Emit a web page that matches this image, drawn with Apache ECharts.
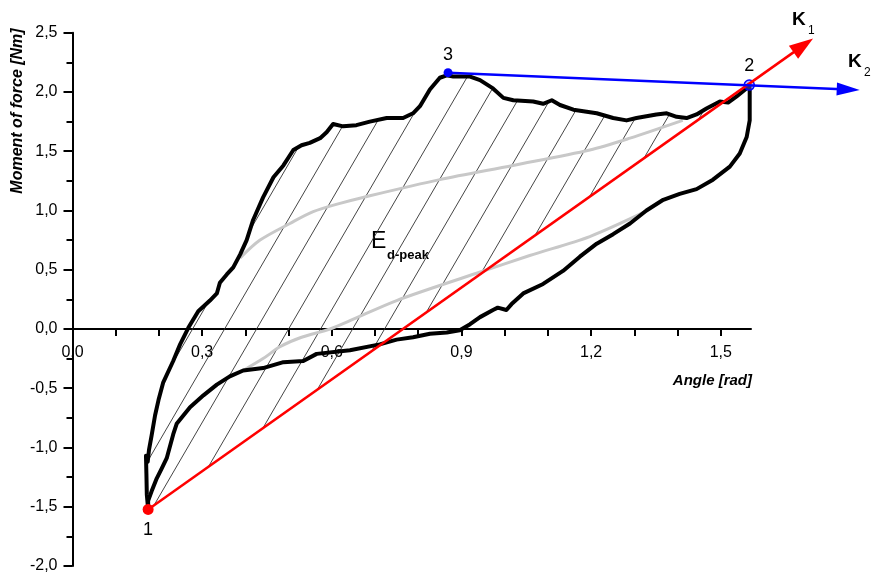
<!DOCTYPE html>
<html>
<head>
<meta charset="utf-8">
<script src="https://cdn.jsdelivr.net/npm/echarts@6/dist/echarts.min.js"></script>
<style>
html,body{margin:0;padding:0;background:#fff}
#main{width:872px;height:574px}
</style>
</head>
<body>
<div id="main"></div>
<script>
// axis ticks
var xMajor = [0, 0.3, 0.6, 0.9, 1.2, 1.5];
var xTicks = [0, 0.1, 0.2, 0.3, 0.4, 0.5, 0.6, 0.7, 0.8, 0.9, 1.0, 1.1, 1.2, 1.3, 1.4, 1.5];

// outer (loading) curve, point 1 -> point 2
var loadPath = [
	[0.175,-1.52],[0.172,-1.40],[0.171,-1.22],[0.170,-1.07],[0.174,-1.12],[0.177,-1.02],[0.183,-0.90],
	[0.191,-0.73],[0.199,-0.60],[0.210,-0.45],[0.233,-0.27],[0.249,-0.13],[0.268,0.01],[0.291,0.15],
	[0.318,0.24],[0.334,0.30],[0.341,0.39],[0.357,0.46],[0.372,0.52],[0.388,0.63],[0.403,0.75],
	[0.418,0.92],[0.441,1.11],[0.465,1.28],[0.488,1.38],[0.511,1.51],[0.530,1.55],[0.549,1.57],
	[0.573,1.61],[0.588,1.66],[0.603,1.73],[0.626,1.71],[0.657,1.72],[0.688,1.75],[0.727,1.78],
	[0.765,1.78],[0.788,1.82],[0.804,1.88],[0.827,2.02],[0.850,2.12],[0.866,2.14],[0.881,2.13],
	[0.920,2.13],[0.943,2.10],[0.973,2.03],[0.997,1.95],[1.020,1.93],[1.066,1.92],[1.089,1.90],
	[1.109,1.93],[1.128,1.89],[1.159,1.85],[1.213,1.82],[1.251,1.78],[1.282,1.76],[1.305,1.78],
	[1.351,1.81],[1.375,1.82],[1.398,1.79],[1.421,1.78],[1.444,1.81],[1.467,1.86],[1.498,1.92],
	[1.517,1.91],[1.536,1.96],[1.563,2.04],[1.566,2.06]
];
// return (unloading) curve, point 2 -> point 1
var unloadPath = [
	[1.566,2.06],[1.567,2.02],[1.567,1.76],[1.560,1.62],[1.544,1.48],[1.521,1.37],[1.482,1.26],
	[1.444,1.18],[1.405,1.14],[1.367,1.09],[1.328,1.00],[1.290,0.89],[1.251,0.80],[1.213,0.72],
	[1.174,0.61],[1.135,0.49],[1.089,0.38],[1.043,0.30],[1.016,0.21],[1.004,0.16],[0.984,0.18],
	[0.973,0.16],[0.943,0.10],[0.920,0.04],[0.896,-0.01],[0.866,-0.03],[0.827,-0.04],[0.788,-0.07],
	[0.750,-0.09],[0.711,-0.13],[0.642,-0.18],[0.565,-0.21],[0.534,-0.27],[0.488,-0.28],[0.441,-0.33],
	[0.395,-0.35],[0.364,-0.40],[0.334,-0.47],[0.303,-0.56],[0.272,-0.66],[0.241,-0.80],[0.233,-0.89],
	[0.218,-1.09],[0.206,-1.18],[0.195,-1.26],[0.183,-1.37],[0.175,-1.45],[0.175,-1.52]
];
// grey curves
var greyUpper = [
	[0.388,0.60],[0.434,0.75],[0.503,0.89],[0.557,0.99],[0.619,1.06],[0.672,1.11],[0.850,1.26],
	[1.019,1.38],[1.197,1.51],[1.290,1.61],[1.412,1.76]
];
var greyLower = [
	[0.395,-0.35],[0.441,-0.25],[0.480,-0.15],[0.530,-0.07],[0.596,0.0],[0.642,0.07],[0.750,0.24],
	[0.935,0.47],[1.058,0.62],[1.197,0.78],[1.331,1.00]
];
// marked points and arrow ends
var pointNames = ['1', '2', '3'];
var pointValues = [[0.175,-1.523],[1.566,2.058],[0.869,2.163]];
var k1Line = [[0.175,-1.523],[1.691,2.393]];
var k2Line = [[0.869,2.163],[1.795,2.020]];

var font = "'Liberation Sans', Arial, sans-serif";
function fmt(v){ return v.toFixed(1).replace('.', ','); }

// hatch pattern tile
function makeHatch(){
	var c = document.createElement('canvas');
	c.width = 32; c.height = 55;
	var ctx = c.getContext('2d');
	ctx.strokeStyle = '#303030';
	ctx.lineWidth = 0.9;
	[-32, 0, 32].forEach(function(dx){
		ctx.beginPath();
		ctx.moveTo(dx, 55);
		ctx.lineTo(dx + 32, 0);
		ctx.stroke();
	});
	return c;
}
var hatch = makeHatch();

var myChart = echarts.init(document.getElementById('main'));
var option = {
	animation: false,
	backgroundColor: '#fff',
	grid: { left: 72.5, right: 121, top: 32.7, bottom: 8, containLabel: false, outerBoundsMode: 'none' },
	xAxis: {
		type: 'value', min: 0, max: 1.57, interval: 0.3,
		axisLine: { onZero: true, lineStyle: { color: '#000', width: 2 } },
		axisTick: { customValues: xTicks, length: 7, lineStyle: { color: '#000', width: 2 } },
		axisLabel: { show: false },
		splitLine: { show: false }
	},
	yAxis: {
		type: 'value', min: -2, max: 2.5, interval: 0.5,
		axisLine: { show: true, onZero: false, lineStyle: { color: '#000', width: 2 } },
		axisTick: { show: true, length: 9, lineStyle: { color: '#000', width: 2 } },
		minorTick: { show: true, splitNumber: 2, length: 6, lineStyle: { color: '#000', width: 2 } },
		axisLabel: { formatter: fmt, margin: 15, fontSize: 16, color: '#000', fontFamily: font },
		splitLine: { show: false }
	},
	graphic: [
		{ type: 'text', x: 18, y: 111, rotation: Math.PI / 2, silent: true,
		  style: { text: 'Moment of force [Nm]', font: 'italic bold 16px ' + font, fill: '#000', align: 'center', verticalAlign: 'middle' } },
		{ type: 'text', x: 752, y: 381, silent: true,
		  style: { text: 'Angle [rad]', font: 'italic bold 15px ' + font, fill: '#000', align: 'right', verticalAlign: 'middle' } },
		{ type: 'text', x: 371, y: 242, silent: true,
		  style: { text: 'E', font: '23px ' + font, fill: '#000', verticalAlign: 'middle' } },
		{ type: 'text', x: 387, y: 255, silent: true,
		  style: { text: 'd-peak', font: 'bold 13px ' + font, fill: '#000', verticalAlign: 'middle' } },
		{ type: 'text', x: 792, y: 20, silent: true,
		  style: { text: 'K', font: 'bold 19px ' + font, fill: '#000', verticalAlign: 'middle' } },
		{ type: 'text', x: 808, y: 31, silent: true,
		  style: { text: '1', font: '12px ' + font, fill: '#000', verticalAlign: 'middle' } },
		{ type: 'text', x: 848, y: 61.5, silent: true,
		  style: { text: 'K', font: 'bold 19px ' + font, fill: '#000', verticalAlign: 'middle' } },
		{ type: 'text', x: 864, y: 72.5, silent: true,
		  style: { text: '2', font: '12px ' + font, fill: '#000', verticalAlign: 'middle' } }
	],
	series: [
		{
			// hatched E d-peak area: loading curve closed by the 1-2 chord
			type: 'custom', z: 1, silent: true,
			data: [[0, 0]],
			renderItem: function(params, api){
				var pts = loadPath.map(function(p){ return api.coord(p); });
				return { type: 'polygon', shape: { points: pts }, style: { fill: { image: hatch, repeat: 'repeat' }, stroke: null } };
			}
		},
		{ type: 'line', z: 2, data: greyUpper, showSymbol: false, smooth: 0.3, silent: true, clip: false,
		  lineStyle: { color: '#c8c8c8', width: 3 } },
		{ type: 'line', z: 2, data: greyLower, showSymbol: false, smooth: 0.3, silent: true, clip: false,
		  lineStyle: { color: '#c8c8c8', width: 3 } },
		{ type: 'line', z: 3, data: loadPath, showSymbol: false, silent: true, clip: false,
		  lineStyle: { color: '#000', width: 4, join: 'round', cap: 'round' } },
		{ type: 'line', z: 3, data: unloadPath, showSymbol: false, silent: true, clip: false,
		  lineStyle: { color: '#000', width: 4, join: 'round', cap: 'round' } },
		{
			// x tick labels, placed on the zero line through the axis scale
			type: 'custom', z: 6, silent: true,
			data: xMajor.map(function(v){ return [v, 0]; }),
			renderItem: function(params, api){
				var pt = api.coord([api.value(0), 0]);
				return { type: 'text', x: pt[0], y: pt[1] + 24,
					style: { text: fmt(api.value(0)), font: '16px ' + font, fill: '#000', align: 'center', verticalAlign: 'middle' } };
			}
		},
		{
			type: 'scatter', z: 4, silent: true,
			data: [
				{ value: pointValues[0], name: pointNames[0], symbolSize: 11, itemStyle: { color: '#ff0000', opacity: 1 }, label: { position: 'bottom', distance: 6 } },
				{ value: pointValues[1], name: pointNames[1], symbolSize: 10, itemStyle: { color: 'rgba(90,90,255,0.45)', borderColor: '#0000ff', borderWidth: 1.5, opacity: 1 }, label: { position: 'top', distance: 4 } },
				{ value: pointValues[2], name: pointNames[2], symbolSize: 9, itemStyle: { color: '#0000ff', opacity: 1 }, label: { position: 'top', distance: 4 } }
			],
			label: { show: true, formatter: '{b}', fontSize: 18, color: '#000', fontFamily: font }
		},
		{
			type: 'lines', coordinateSystem: 'cartesian2d', z: 5, silent: true, clip: false,
			symbol: ['none', 'triangle'], symbolSize: [0, [16, 24]],
			lineStyle: { color: '#ff0000', width: 2.5, opacity: 1, curveness: 0 },
			data: [{ coords: k1Line }]
		},
		{
			type: 'lines', coordinateSystem: 'cartesian2d', z: 5, silent: true, clip: false,
			symbol: ['none', 'triangle'], symbolSize: [0, [13, 23]],
			lineStyle: { color: '#0000ff', width: 2.5, opacity: 1, curveness: 0 },
			data: [{ coords: k2Line }]
		}
	]
};
myChart.setOption(option);
</script>
</body>
</html>
